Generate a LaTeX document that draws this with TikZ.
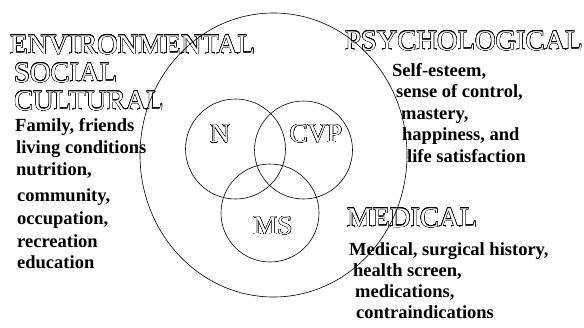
\documentclass[tikz,border=0pt]{standalone}
\usepackage{fontspec}
\setmainfont{Liberation Serif}
\usepackage{contour}
\contourlength{0.35pt}
\contournumber{24}
\tikzset{
  head/.style={anchor=base west, inner sep=0pt, text=white, font=\fontsize{28.5}{30}\selectfont},
  inlabel/.style={anchor=center, inner sep=0pt, text=white, font=\fontsize{27}{28}\selectfont},
  body/.style={anchor=base west, inner sep=0pt, font=\fontsize{18.5}{20}\selectfont\bfseries},
  venn/.style={draw, circle, line width=0.6pt, inner sep=0pt},
}
\begin{document}
\begin{tikzpicture}[x=1pt,y=-1pt]
\useasboundingbox (0,0) rectangle (584,327);
% headings
\node[head] (env) at (10,54) {\contour{black}{ENVIRONMENTAL}};
\node[head] (soc) at (14,82) {\contour{black}{SOCIAL}};
\node[head] (cul) at (14,110) {\contour{black}{CULTURAL}};
\node[head] (psy) at (345,50) {\contour{black}{PSYCHOLOGICAL}};
\node[head] (med) at (347,227) {\contour{black}{MEDICAL}};
% left body
\node[body] (l1) at (15,131) {Family, friends};
\node[body] (l2) at (16,153) {living conditions};
\node[body] (l3) at (16,175) {nutrition,};
\node[body] (l4) at (17,201) {community,};
\node[body] (l5) at (17,224) {occupation,};
\node[body] (l6) at (17,247) {recreation};
\node[body] (l7) at (17,268) {education};
% psych body
\node[body] (p1) at (392,76) {Self-esteem,};
\node[body] (p2) at (396,97) {sense of control,};
\node[body] (p3) at (401,119) {mastery,};
\node[body] (p4) at (402,140) {happiness, and};
\node[body] (p5) at (407,162) {life satisfaction};
% medical body
\node[body] (m1) at (349,255) {Medical, surgical history,};
\node[body] (m2) at (353,276) {health screen,};
\node[body] (m3) at (355,297) {medications,};
\node[body] (m4) at (356,318) {contraindications};
% inner labels
\node[inlabel] (nl) at (220,134) {\contour{black}{N}};
\node[inlabel] (cl) at (316,134) {\contour{black}{CVP}};
\node[inlabel] (ml) at (273,226) {\contour{black}{MS}};
% circles
\draw[line width=0.6pt] (273.5,155) ellipse [x radius=133.5pt, y radius=142pt];
\node[venn, minimum size=100pt] (N) at (235.5,149) {};
\node[venn, minimum size=98pt] (CVP) at (303.5,150) {};
\node[venn, minimum size=98pt] (MS) at (270,213) {};
\end{tikzpicture}
\end{document}
